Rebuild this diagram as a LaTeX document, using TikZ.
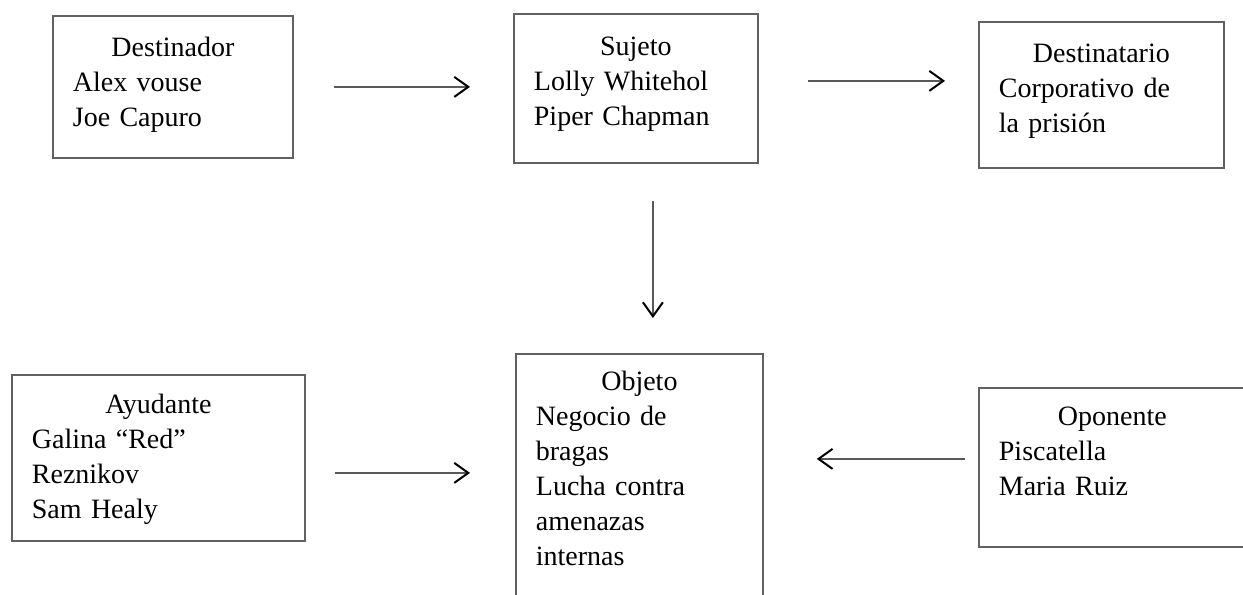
\documentclass[tikz,border=0pt]{standalone}
\usepackage{fontspec}
\setmainfont{Liberation Serif}
\usetikzlibrary{arrows.meta}

\begin{document}
\begin{tikzpicture}[x=1bp, y=-1bp,
	actante/.style={draw=black!62, line width=1.8bp, anchor=north west, inner xsep=20bp, inner ysep=0bp, align=left, font=\fontsize{28bp}{35bp}\selectfont},
	flecha/.style={draw=black!65, line width=1.6bp, -{Straight Barb[length=14bp, width=20bp, line width=2bp, color=black]}}]
	\useasboundingbox (0,0) rectangle (1243,595);
	\path (52,15) node[actante, text width=200bp, text height=41bp, text depth=101bp] (dest) {{\centering Destinador\par}Alex vouse\\Joe Capuro}
	(513,13) node[actante, text width=204bp, text height=42bp, text depth=107bp] (suj) {{\centering Sujeto\par}Lolly Whitehol\\Piper Chapman}
	(978,21) node[actante, text width=205bp, text height=41bp, text depth=105bp] (dtr) {{\centering Destinatario\par}Corporativo de\\la prisión}
	(515,353) node[actante, text width=207bp, text height=37bp, text depth=230bp] (obj) {{\centering Objeto\par}Negocio de\\bragas\\Lucha contra\\amenazas\\internas}
	(11,374) node[actante, text width=253bp, text height=39bp, text depth=127bp] (ayu) {{\centering Ayudante\par}Galina “Red”\\Reznikov\\Sam Healy}
	(978,387) node[actante, text width=227bp, text height=38bp, text depth=121bp] (opo) {{\centering Oponente\par}Piscatella\\Maria Ruiz};

	\coordinate (s1) at ([yshift=7.5bp]suj.east);
	\coordinate (s2) at ([xshift=17bp]suj.south);
	\coordinate (a1) at ([yshift=-15bp]ayu.east);
	\coordinate (o1) at ([yshift=8.5bp]opo.west);

	\draw[flecha, shorten <=40bp, shorten >=43bp] (dest.east) -- (dest.east -| suj.west);
	\draw[flecha, shorten <=49bp, shorten >=33bp] (s1) -- (s1 -| dtr.west);
	\draw[flecha, shorten <=37bp, shorten >=35bp] (s2) -- (s2 |- obj.north);
	\draw[flecha, shorten <=29bp, shorten >=45bp] (a1) -- (a1 -| obj.west);
	\draw[flecha, shorten <=13bp, shorten >=53bp] (o1) -- (o1 -| obj.east);
\end{tikzpicture}
\end{document}
